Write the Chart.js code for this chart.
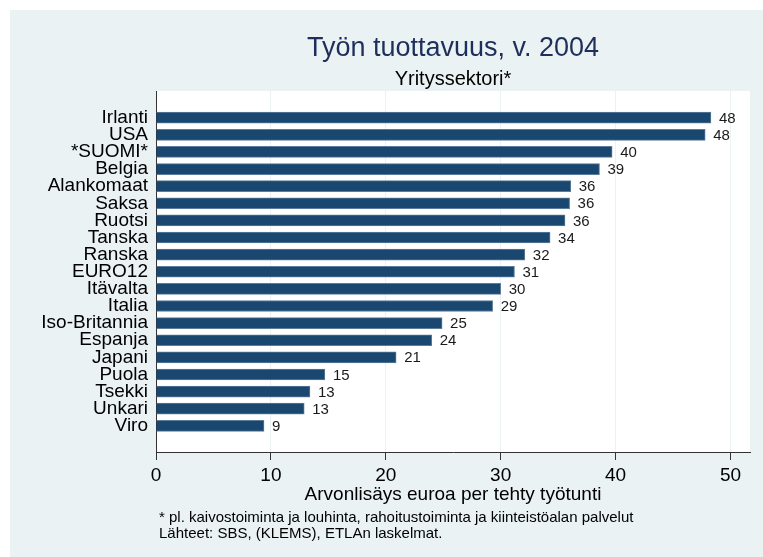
<!DOCTYPE html>
<html>
<head>
<meta charset="utf-8">
<title>Työn tuottavuus, v. 2004</title>
<script src="https://cdn.jsdelivr.net/npm/chart.js@4.4.1/dist/chart.umd.min.js"></script>
<style>
  html, body { margin: 0; padding: 0; background: #fff; }
  canvas { display: block; }
</style>
</head>
<body>
<canvas id="prodChart" width="763" height="557"></canvas>
<script>
// ── Data ──
const countries = ['Irlanti', 'USA', '*SUOMI*', 'Belgia', 'Alankomaat', 'Saksa', 'Ruotsi', 'Tanska', 'Ranska',
    'EURO12', 'Itävalta', 'Italia', 'Iso-Britannia', 'Espanja', 'Japani', 'Puola', 'Tsekki', 'Unkari', 'Viro'];
const values = [48.3, 47.8, 39.7, 38.6, 36.1, 36.0, 35.6, 34.3, 32.1,
    31.2, 30.0, 29.3, 24.9, 24.0, 20.9, 14.7, 13.4, 12.9, 9.4];
const xTicks = [0, 10, 20, 30, 40, 50];

const titleText = 'Työn tuottavuus, v. 2004';
const subtitleText = 'Yrityssektori*';
const xTitleText = 'Arvonlisäys euroa per tehty työtunti';
const notes = [
    '* pl. kaivostoiminta ja louhinta, rahoitustoiminta ja kiinteistöalan palvelut',
    'Lähteet: SBS, (KLEMS), ETLAn laskelmat.'
];

const FONT = "'Liberation Sans', Arial, sans-serif";
Chart.defaults.font.family = FONT;

// graph region + white plot region
const backdrop = {
    id: 'backdrop',
    beforeDraw(chart) {
        const { ctx, width, height, chartArea: a } = chart;
        ctx.save();
        ctx.fillStyle = '#fff';
        ctx.fillRect(0, 0, width, height);
        ctx.fillStyle = '#eaf2f3';
        ctx.fillRect(10, 10, width - 10, height - 10);
        ctx.fillStyle = '#fff';
        ctx.fillRect(a.left, a.top, a.right - a.left, a.bottom - a.top);
        ctx.restore();
    }
};

const valueLabels = {
    id: 'valueLabels',
    afterDatasetsDraw(chart) {
        const { ctx } = chart;
        const meta = chart.getDatasetMeta(0);
        ctx.save();
        ctx.font = `15px ${FONT}`;
        ctx.fillStyle = '#1a1a1a';
        ctx.textAlign = 'left';
        ctx.textBaseline = 'middle';
        meta.data.forEach((bar, i) => {
            ctx.fillText(String(Math.round(values[i])), bar.x + 8, bar.y + 1);
        });
        ctx.restore();
    }
};

const texts = {
    id: 'texts',
    afterDraw(chart) {
        const { ctx, chartArea: a } = chart;
        const cx = (a.left + a.right) / 2;
        ctx.save();
        ctx.textBaseline = 'alphabetic';
        ctx.textAlign = 'center';
        ctx.fillStyle = '#1e2f5c';
        ctx.font = `27px ${FONT}`;
        ctx.fillText(titleText, cx, 56);
        ctx.fillStyle = '#000';
        ctx.font = `20px ${FONT}`;
        ctx.fillText(subtitleText, cx, 85);
        ctx.font = `19px ${FONT}`;
        ctx.fillText(xTitleText, cx, 500);
        ctx.textAlign = 'left';
        ctx.font = `15px ${FONT}`;
        notes.forEach((line, i) => ctx.fillText(line, 159, 522 + i * 16));
        ctx.restore();
    }
};

// ── Build Chart ──
const ctx = document.getElementById('prodChart').getContext('2d');
const prodChart = new Chart(ctx, {
    type: 'bar',
    data: {
        datasets: [{
            data: values.map((v, i) => ({ x: v, y: i })),
            backgroundColor: '#1a476f',
            borderColor: '#5b7c9b',
            borderWidth: 1,
            barThickness: 11
        }]
    },
    options: {
        indexAxis: 'y',
        responsive: false,
        animation: false,
        layout: { padding: { top: 91, right: 13, bottom: 0, left: 0 } },
        plugins: {
            legend: { display: false },
            tooltip: { enabled: false }
        },
        scales: {
            x: {
                type: 'linear',
                min: 0,
                max: 51.7,
                offset: false,
                afterFit: s => { s.height = 105; },
                afterBuildTicks: s => { s.ticks = xTicks.map(v => ({ value: v })); },
                grid: { color: '#eaf2f3', tickColor: '#333', tickLength: 8, offset: false },
                border: { color: '#333', width: 1 },
                ticks: { font: { size: 19 }, color: '#000', padding: 4, maxRotation: 0 }
            },
            y: {
                type: 'linear',
                reverse: true,
                min: -1.56,
                max: 19.53,
                offset: false,
                afterFit: s => { s.width = 156; },
                afterBuildTicks: s => { s.ticks = countries.map((c, i) => ({ value: i })); },
                grid: { display: false, drawTicks: false, offset: false },
                border: { display: true, color: '#333', width: 1 },
                ticks: {
                    callback: v => countries[v],
                    autoSkip: false,
                    font: { size: 19 },
                    color: '#000',
                    padding: 8
                }
            }
        }
    },
    plugins: [backdrop, valueLabels, texts]
});
</script>
</body>
</html>
